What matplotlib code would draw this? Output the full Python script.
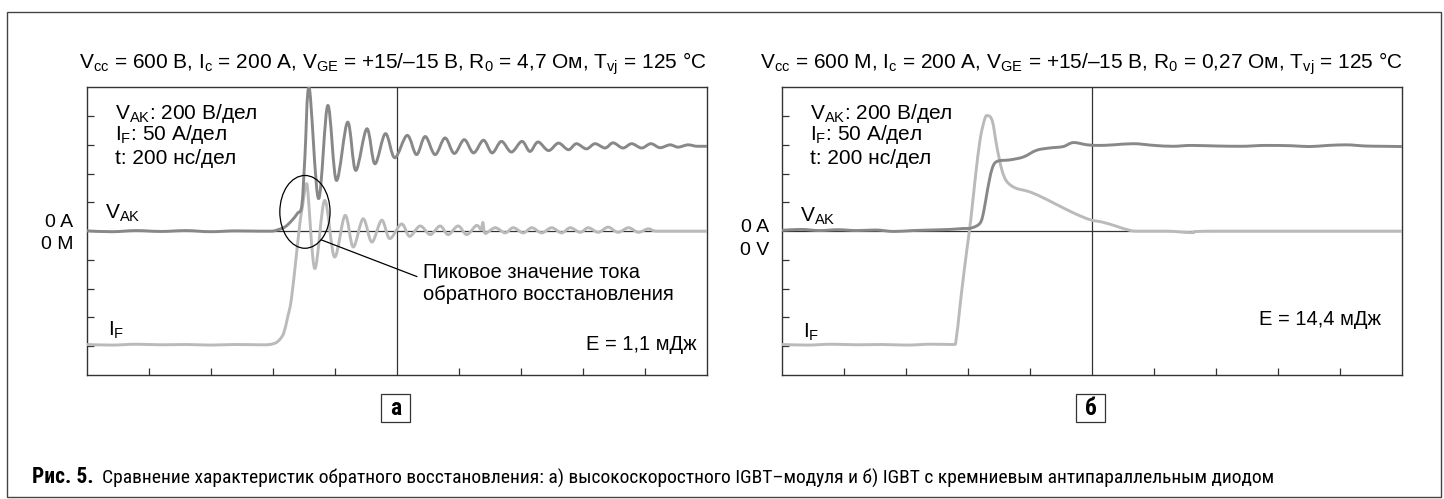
import matplotlib
matplotlib.use('Agg')
import matplotlib.pyplot as plt
from matplotlib.patches import Ellipse, Rectangle, PathPatch
from matplotlib.path import Path
from matplotlib import font_manager

plt.rcParams['font.family'] = ['Liberation Sans', 'DejaVu Sans']
plt.rcParams['mathtext.fontset'] = 'custom'
plt.rcParams['mathtext.rm'] = 'Liberation Sans'
plt.rcParams['mathtext.it'] = 'Liberation Sans:italic'
plt.rcParams['mathtext.bf'] = 'Liberation Sans:bold'

# ---------------- data (divisions: time 0..10, amplitude -5..5) ----------------
vak_a = [(0.0, 0.01), (0.4, -0.02), (0.8, 0.02), (1.2, -0.01), (1.6, 0.02), (2.0, -0.02),
         (2.4, 0.01), (2.8, 0.0), (2.98, 0.0), (3.10, 0.06), (3.20, 0.15), (3.30, 0.35),
         (3.40, 0.62), (3.47, 0.9), (3.52, 2.6), (3.585, 5.0), (3.74, 1.13),
         (3.89, 4.37), (4.03, 1.76), (4.21, 3.79), (4.34, 2.11), (4.52, 3.56), (4.65, 2.34),
         (4.82, 3.39), (4.97, 2.55), (5.17, 3.33), (5.32, 2.66), (5.46, 3.29), (5.62, 2.66),
         (5.78, 3.24), (5.93, 2.70), (6.09, 3.18), (6.24, 2.72), (6.40, 3.16), (6.54, 2.72),
         (6.69, 3.12), (6.85, 2.75), (7.02, 3.12), (7.15, 2.77), (7.28, 3.10), (7.45, 2.80),
         (7.61, 3.06), (7.77, 2.83), (7.90, 3.04), (8.06, 2.86), (8.20, 3.04), (8.36, 2.89),
         (8.49, 3.07), (8.65, 2.89), (8.79, 3.04), (8.95, 2.89), (9.10, 3.04), (9.25, 2.90),
         (9.41, 3.00), (9.54, 2.92), (9.70, 3.00), (9.85, 2.95), (10.0, 2.95)]

if_a = [(0.0, -3.94), (0.4, -3.96), (0.8, -3.93), (1.2, -3.95), (1.6, -3.94), (2.0, -3.96),
        (2.4, -3.94), (2.8, -3.95), (2.95, -3.94), (3.05, -3.88), (3.12, -3.75), (3.18, -3.53),
        (3.24, -3.0), (3.30, -2.38), (3.38, -0.87), (3.44, 0.3), (3.48, 0.86), (3.52, 1.45),
        (3.55, 1.65), (3.68, -1.30), (3.84, 1.07), (4.00, -0.90), (4.17, 0.55), (4.30, -0.55),
        (4.46, 0.43), (4.60, -0.38), (4.76, 0.38), (4.89, -0.26), (5.08, 0.25), (5.21, -0.18),
        (5.38, 0.18), (5.54, -0.12), (5.70, 0.18), (5.83, -0.12), (5.99, 0.18), (6.13, -0.12),
        (6.29, 0.20), (6.36, 0.05), (6.39, 0.30), (6.43, -0.08), (6.59, 0.12), (6.75, -0.06),
        (6.88, 0.12), (7.04, -0.06), (7.18, 0.12), (7.34, -0.06), (7.50, 0.12), (7.66, -0.06),
        (7.80, 0.12), (7.96, -0.04), (8.09, 0.12), (8.25, -0.04), (8.41, 0.14), (8.57, -0.04),
        (8.74, 0.12), (8.90, -0.04), (9.06, 0.08), (9.2, 0.0), (9.6, 0.0), (10.0, 0.0)]

vak_b = [(0.0, 0.03), (0.3, 0.06), (0.6, 0.02), (0.9, 0.05), (1.2, 0.02), (1.5, 0.04),
         (1.8, -0.01), (2.1, 0.02), (2.4, 0.04), (2.7, 0.06), (2.9, 0.09), (3.05, 0.11),
         (3.19, 0.28), (3.25, 0.7), (3.31, 1.44), (3.38, 2.14), (3.46, 2.42), (3.68, 2.48),
         (3.89, 2.58), (4.10, 2.81), (4.31, 2.89), (4.53, 2.94), (4.70, 3.08), (4.92, 3.0),
         (5.12, 2.98), (5.34, 3.0), (5.66, 3.04), (6.0, 2.98), (6.3, 2.95), (6.6, 2.98),
         (7.0, 2.96), (7.4, 2.95), (7.8, 2.98), (8.2, 2.97), (8.5, 2.94), (8.8, 2.98),
         (9.1, 3.0), (9.4, 2.96), (9.7, 2.95), (10.0, 2.94)]

if_b = [(0.0, -3.94), (0.4, -3.96), (0.8, -3.93), (1.2, -3.95), (1.6, -3.94), (2.0, -3.96),
        (2.4, -3.93), (2.75, -3.94), (2.81, -3.65), (2.89, -2.15), (2.97, -0.76), (3.04, 0.4),
        (3.11, 1.79), (3.19, 3.18), (3.27, 3.93), (3.32, 4.01), (3.39, 3.81), (3.46, 2.94),
        (3.54, 2.14), (3.62, 1.73), (3.76, 1.5), (3.97, 1.38), (4.16, 1.21), (4.43, 0.92),
        (4.70, 0.63), (4.96, 0.40), (5.17, 0.31), (5.39, 0.17), (5.60, 0.03), (5.76, 0.0),
        (6.2, 0.0), (6.6, -0.05), (7.0, 0.0), (10.0, 0.0)]

x_ticks = [1, 2, 3, 4, 6, 7, 8, 9]
y_ticks = [-4, -3, -2, -1, 1, 2, 3, 4]

titles = [r'V$_{\mathrm{cc}}$ = 600 В, I$_{\mathrm{c}}$ = 200 А, V$_{\mathrm{GE}}$ = +15/–15 В, '
          r'R$_{\mathrm{0}}$ = 4,7 Ом, T$_{\mathrm{vj}}$ = 125 °C',
          r'V$_{\mathrm{cc}}$ = 600 М, I$_{\mathrm{c}}$ = 200 А, V$_{\mathrm{GE}}$ = +15/–15 В, '
          r'R$_{\mathrm{0}}$ = 0,27 Ом, T$_{\mathrm{vj}}$ = 125 °C']
scale_lines = [r'V$_{\mathrm{AK}}$: 200 В/дел', r'I$_{\mathrm{F}}$: 50 А/дел', 't: 200 нс/дел']
zero_labels = [('0 A', '0 M'), ('0 A', '0 V')]
energy = ['E = 1,1 мДж', 'E = 14,4 мДж']
panel_tags = ['а', 'б']
peak_note = ['Пиковое значение тока', 'обратного восстановления']
caption_bold = 'Рис. 5.'
caption = ('Сравнение характеристик обратного восстановления: а) высокоскоростного '
           'IGBT–модуля и б) IGBT с кремниевым антипараллельным диодом')

VAK_COLOR = '#888888'
IF_COLOR = '#bababa'
FRAME = '#333333'

W, H = 1444, 499
fig = plt.figure(figsize=(W / 100, H / 100), dpi=100)
fig.patch.set_facecolor('white')


def fx(px):
    return px / W


def fy(py):
    return 1 - py / H


def smooth_trace(ax, pts, color, lw, z):
    """Draw a smooth curve through the measured points (cubic Bezier rendering)."""
    n = len(pts)
    tang = []
    for i in range(n):
        p0 = pts[max(i - 1, 0)]
        p2 = pts[min(i + 1, n - 1)]
        dx = (p2[0] - p0[0]) / 2.0
        dy = (p2[1] - p0[1]) / 2.0
        if 0 < i < n - 1:
            y0, y1, y2 = p0[1], pts[i][1], p2[1]
            if (y1 >= y0 and y1 >= y2) or (y1 <= y0 and y1 <= y2):
                dy = 0.0
        tang.append((dx, dy))
    verts = [pts[0]]
    codes = [Path.MOVETO]
    for i in range(n - 1):
        p1, p2 = pts[i], pts[i + 1]
        t1, t2 = tang[i], tang[i + 1]
        verts += [(p1[0] + t1[0] / 3, p1[1] + t1[1] / 3),
                  (p2[0] - t2[0] / 3, p2[1] - t2[1] / 3), p2]
        codes += [Path.CURVE4] * 3
    patch = PathPatch(Path(verts, codes), fill=False, ec=color, lw=lw,
                      capstyle='round', joinstyle='round', zorder=z)
    ax.add_patch(patch)


# narrow face for caption / panel tags if one is installed
names = {f.name for f in font_manager.fontManager.ttflist}
cap_fam = 'Liberation Sans'
for cand in ['Liberation Sans Narrow', 'Roboto Condensed', 'Open Sans Condensed', 'Arial Narrow']:
    if cand in names:
        cap_fam = cand
        break

# outer frame
fig.add_artist(Rectangle((fx(6.5), fy(497)), (1441 - 6.5) / W, (497 - 12) / H,
                         transform=fig.transFigure, fill=False, ec='#444444', lw=1.0))

ax_w, ax_h = 620, 287.7
lefts = [86.7, 782.3]
axes = [fig.add_axes([fx(l), fy(375), ax_w / W, ax_h / H]) for l in lefts]


def ay(py):
    return (375 - py) / ax_h


data = [(vak_a, if_a), (vak_b, if_b)]
E_pos = [((697 - 86.7) / ax_w, ay(350)), ((1381 - 782.3) / ax_w, ay(325))]
zero_pos = [(ay(226.7), ay(249.3)), (ay(231.7), ay(255))]
vak_label_y = [ay(218.7), ay(221.5)]
if_label_y = [ay(336), ay(338)]

for i, ax in enumerate(axes):
    ax.set_xlim(0, 10)
    ax.set_ylim(-5, 5)
    ax.set_xticks(x_ticks)
    ax.set_yticks(y_ticks)
    ax.tick_params(direction='in', length=5, width=0.9, color=FRAME,
                   labelleft=False, labelbottom=False)
    for s in ax.spines.values():
        s.set_color(FRAME)
        s.set_linewidth(1.0)
    ax.axhline(0, color=FRAME, lw=0.9, zorder=1)
    ax.axvline(5, color=FRAME, lw=0.9, zorder=1)

    vak, ifw = data[i]
    smooth_trace(ax, ifw, IF_COLOR, 2.1, 3)
    smooth_trace(ax, vak, VAK_COLOR, 2.1, 4)

    # title
    ax.text(1.0, ay(68.3), titles[i], transform=ax.transAxes, ha='right',
            va='baseline', fontsize=15)
    # scale text
    for s, pyb in zip(scale_lines, [119, 140.5, 163.5]):
        ax.text(28 / ax_w, ay(pyb), s, transform=ax.transAxes, ha='left',
                va='baseline', fontsize=15)
    # trace labels
    ax.text(18 / ax_w, vak_label_y[i], r'V$_{\mathrm{AK}}$', transform=ax.transAxes,
            ha='left', va='baseline', fontsize=15)
    ax.text(21 / ax_w, if_label_y[i], r'I$_{\mathrm{F}}$', transform=ax.transAxes,
            ha='left', va='baseline', fontsize=15)
    # zero labels
    za, zb = zero_labels[i]
    ax.text(-13.5 / ax_w, zero_pos[i][0], za, transform=ax.transAxes, ha='right', va='baseline', fontsize=14)
    ax.text(-13.5 / ax_w, zero_pos[i][1], zb, transform=ax.transAxes, ha='right', va='baseline', fontsize=14)
    # energy
    ax.text(E_pos[i][0], E_pos[i][1], energy[i], transform=ax.transAxes, ha='right',
            va='baseline', fontsize=14.5)
    # panel tag with square box
    cx = lefts[i] + ax_w / 2 - 1.5
    fig.add_artist(Rectangle((fx(cx - 14.5), fy(422)), 29 / W, 28 / H, transform=fig.transFigure,
                             fill=False, ec=FRAME, lw=0.9))
    fig.text(fx(cx), fy(408.5), panel_tags[i], ha='center', va='center',
             fontsize=17, fontweight='bold', family=cap_fam)

# ellipse + leader for the peak reverse-recovery current
ax = axes[0]
ax.add_patch(Ellipse((3.52, 0.67), 0.81, 2.53, fill=False, ec='black', lw=0.9, zorder=5))
ax.annotate('', xy=(3.78, -0.30), xytext=((417 - 86.7) / 62, (231.5 - 277) / 28.8),
            arrowprops=dict(arrowstyle='-', color='black', lw=0.9, shrinkA=0, shrinkB=0))
ax.text((423 - 86.7) / 62, (231.5 - 278.3) / 28.8, peak_note[0], ha='left', va='baseline', fontsize=14.5)
ax.text((423 - 86.7) / 62, (231.5 - 300) / 28.8, peak_note[1], ha='left', va='baseline', fontsize=14.5)

# caption sized to the measured widths
renderer = fig.canvas.get_renderer()
probe = fig.text(0, 0, 'Сравнение характеристик обратного восста', fontsize=13, family=cap_fam)
w13 = probe.get_window_extent(renderer).width
probe.remove()
cap_size = 13 * 358.0 / w13
probe = fig.text(0, 0, caption_bold, fontsize=13, family=cap_fam, fontweight='bold')
wb13 = probe.get_window_extent(renderer).width
probe.remove()
bold_size = 13 * 61.0 / wb13

fig.text(fx(31.7), fy(483.3), caption_bold, ha='left', va='baseline', fontsize=bold_size,
         fontweight='bold', family=cap_fam)
fig.text(fx(101.7), fy(483.3), caption, ha='left', va='baseline', fontsize=cap_size, family=cap_fam)

fig.savefig('out.png', dpi=100, facecolor='white')
